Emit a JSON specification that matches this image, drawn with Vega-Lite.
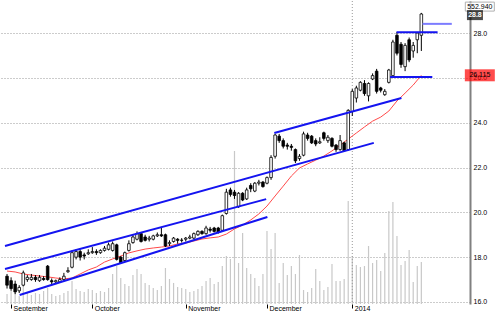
{
  "$schema": "https://vega.github.io/schema/vega-lite/v6.json",
  "width": 470,
  "height": 303,
  "padding": 0,
  "background": "white",
  "config": {"view": {"stroke": null}, "font": "Liberation Sans"},
  "datasets": {
    "candles": [
      {"i":0,"o":17.15,"h":17.25,"l":16.6,"c":16.75,"vol":132},
      {"i":1,"o":16.95,"h":17.1,"l":16.5,"c":16.6,"vol":171},
      {"i":2,"o":16.8,"h":16.95,"l":16.35,"c":16.45,"vol":145},
      {"i":3,"o":16.5,"h":16.75,"l":16.4,"c":16.65,"vol":105},
      {"i":4,"o":16.75,"h":17.4,"l":16.7,"c":17.3,"vol":237},
      {"i":5,"o":17.0,"h":17.2,"l":16.9,"c":17.1,"vol":145},
      {"i":6,"o":17.0,"h":17.25,"l":16.95,"c":17.1,"vol":119},
      {"i":7,"o":17.1,"h":17.2,"l":16.9,"c":17.0,"vol":145},
      {"i":8,"o":16.95,"h":17.2,"l":16.9,"c":17.1,"vol":132},
      {"i":9,"o":17.05,"h":17.15,"l":16.95,"c":17.0,"vol":171},
      {"i":10,"o":17.6,"h":17.65,"l":16.95,"c":17.0,"vol":211},
      {"i":11,"o":16.95,"h":17.05,"l":16.75,"c":16.9,"vol":132},
      {"i":12,"o":16.9,"h":17.0,"l":16.8,"c":16.95,"vol":105},
      {"i":13,"o":16.9,"h":17.1,"l":16.85,"c":17.0,"vol":119},
      {"i":14,"o":17.0,"h":17.3,"l":16.95,"c":17.15,"vol":145},
      {"i":15,"o":17.35,"h":17.55,"l":17.3,"c":17.4,"vol":171},
      {"i":16,"o":17.55,"h":18.3,"l":17.5,"c":18.2,"vol":303},
      {"i":17,"o":18.0,"h":18.35,"l":17.9,"c":18.25,"vol":198},
      {"i":18,"o":18.25,"h":18.35,"l":17.85,"c":18.0,"vol":171},
      {"i":19,"o":18.1,"h":18.2,"l":17.9,"c":18.05,"vol":158},
      {"i":20,"o":18.15,"h":18.35,"l":18.1,"c":18.2,"vol":198},
      {"i":21,"o":18.2,"h":18.45,"l":18.15,"c":18.25,"vol":184},
      {"i":22,"o":18.25,"h":18.35,"l":18.1,"c":18.2,"vol":145},
      {"i":23,"o":18.2,"h":18.35,"l":18.15,"c":18.3,"vol":171},
      {"i":24,"o":18.3,"h":18.5,"l":18.25,"c":18.4,"vol":158},
      {"i":25,"o":18.35,"h":18.65,"l":18.3,"c":18.55,"vol":211},
      {"i":26,"o":18.3,"h":18.7,"l":18.25,"c":18.6,"vol":395},
      {"i":27,"o":18.55,"h":18.6,"l":17.85,"c":17.9,"vol":500},
      {"i":28,"o":18.0,"h":18.05,"l":17.7,"c":17.75,"vol":342},
      {"i":29,"o":17.85,"h":18.25,"l":17.8,"c":18.2,"vol":263},
      {"i":30,"o":18.3,"h":18.75,"l":18.25,"c":18.6,"vol":237},
      {"i":31,"o":18.65,"h":19.0,"l":18.6,"c":18.9,"vol":382},
      {"i":32,"o":18.8,"h":19.15,"l":18.75,"c":19.05,"vol":461},
      {"i":33,"o":19.05,"h":19.1,"l":18.65,"c":18.7,"vol":395},
      {"i":34,"o":18.9,"h":19.0,"l":18.7,"c":18.75,"vol":277},
      {"i":35,"o":18.8,"h":18.95,"l":18.7,"c":18.85,"vol":250},
      {"i":36,"o":18.8,"h":19.0,"l":18.75,"c":18.95,"vol":211},
      {"i":37,"o":18.95,"h":19.1,"l":18.9,"c":19.0,"vol":184},
      {"i":38,"o":19.0,"h":19.35,"l":18.9,"c":18.95,"vol":237},
      {"i":39,"o":19.0,"h":19.05,"l":18.45,"c":18.5,"vol":474},
      {"i":40,"o":18.6,"h":18.75,"l":18.5,"c":18.65,"vol":329},
      {"i":41,"o":18.7,"h":18.9,"l":18.65,"c":18.85,"vol":277},
      {"i":42,"o":18.8,"h":18.85,"l":18.6,"c":18.75,"vol":224},
      {"i":43,"o":18.75,"h":18.85,"l":18.65,"c":18.76,"vol":211},
      {"i":44,"o":18.8,"h":18.9,"l":18.7,"c":18.85,"vol":198},
      {"i":45,"o":18.85,"h":19.0,"l":18.8,"c":18.9,"vol":158},
      {"i":46,"o":18.85,"h":19.1,"l":18.8,"c":19.05,"vol":171},
      {"i":47,"o":19.0,"h":19.2,"l":18.95,"c":19.15,"vol":198},
      {"i":48,"o":19.15,"h":19.2,"l":19.0,"c":19.05,"vol":237},
      {"i":49,"o":19.05,"h":19.4,"l":19.0,"c":19.3,"vol":303},
      {"i":50,"o":19.25,"h":19.35,"l":19.1,"c":19.2,"vol":342},
      {"i":51,"o":19.3,"h":19.35,"l":19.1,"c":19.15,"vol":263},
      {"i":52,"o":19.3,"h":19.35,"l":19.05,"c":19.1,"vol":290},
      {"i":53,"o":19.2,"h":19.9,"l":19.15,"c":19.85,"vol":500},
      {"i":54,"o":19.95,"h":21.05,"l":19.9,"c":20.9,"vol":632},
      {"i":55,"o":21.0,"h":21.1,"l":20.7,"c":20.8,"vol":593},
      {"i":56,"o":20.9,"h":21.0,"l":20.6,"c":20.75,"vol":2015},
      {"i":57,"o":20.25,"h":20.9,"l":20.2,"c":20.85,"vol":540},
      {"i":58,"o":20.85,"h":20.9,"l":20.5,"c":20.55,"vol":935},
      {"i":59,"o":20.6,"h":21.1,"l":20.55,"c":21.0,"vol":474},
      {"i":60,"o":21.2,"h":21.3,"l":20.9,"c":21.05,"vol":395},
      {"i":61,"o":20.95,"h":21.35,"l":20.9,"c":21.3,"vol":342},
      {"i":62,"o":21.3,"h":21.45,"l":21.2,"c":21.35,"vol":237},
      {"i":63,"o":21.35,"h":21.4,"l":21.1,"c":21.15,"vol":395},
      {"i":64,"o":21.3,"h":21.6,"l":21.25,"c":21.55,"vol":961},
      {"i":65,"o":21.55,"h":22.55,"l":21.45,"c":22.45,"vol":724},
      {"i":66,"o":22.5,"h":23.5,"l":22.4,"c":23.45,"vol":935},
      {"i":67,"o":23.4,"h":23.5,"l":23.1,"c":23.2,"vol":277},
      {"i":68,"o":23.2,"h":23.3,"l":22.85,"c":22.95,"vol":540},
      {"i":69,"o":23.0,"h":23.1,"l":22.8,"c":22.95,"vol":382},
      {"i":70,"o":22.95,"h":23.05,"l":22.75,"c":22.9,"vol":500},
      {"i":71,"o":22.8,"h":22.85,"l":22.2,"c":22.3,"vol":395},
      {"i":72,"o":22.4,"h":22.6,"l":22.3,"c":22.5,"vol":645},
      {"i":73,"o":22.55,"h":23.6,"l":22.5,"c":23.5,"vol":184},
      {"i":74,"o":23.45,"h":23.55,"l":23.2,"c":23.3,"vol":158},
      {"i":75,"o":23.4,"h":23.45,"l":23.05,"c":23.1,"vol":211},
      {"i":76,"o":23.2,"h":23.3,"l":22.95,"c":23.05,"vol":461},
      {"i":77,"o":23.1,"h":23.35,"l":23.05,"c":23.15,"vol":303},
      {"i":78,"o":23.55,"h":23.6,"l":23.2,"c":23.3,"vol":184},
      {"i":79,"o":23.2,"h":23.45,"l":23.1,"c":23.35,"vol":224},
      {"i":80,"o":23.3,"h":23.35,"l":22.9,"c":22.95,"vol":527},
      {"i":81,"o":23.0,"h":23.05,"l":22.7,"c":22.8,"vol":303},
      {"i":82,"o":22.8,"h":23.45,"l":22.75,"c":23.2,"vol":303},
      {"i":83,"o":23.1,"h":23.15,"l":22.7,"c":22.75,"vol":329},
      {"i":84,"o":22.8,"h":24.6,"l":22.75,"c":24.55,"vol":1356},
      {"i":85,"o":24.5,"h":25.5,"l":24.3,"c":25.4,"vol":632},
      {"i":86,"o":25.1,"h":25.65,"l":24.9,"c":25.55,"vol":514},
      {"i":87,"o":25.45,"h":25.85,"l":25.4,"c":25.8,"vol":487},
      {"i":88,"o":25.75,"h":25.9,"l":25.2,"c":25.3,"vol":500},
      {"i":89,"o":25.2,"h":25.8,"l":24.95,"c":25.75,"vol":764},
      {"i":90,"o":25.95,"h":26.2,"l":25.9,"c":26.1,"vol":540},
      {"i":91,"o":26.3,"h":26.4,"l":25.3,"c":25.4,"vol":580},
      {"i":92,"o":25.55,"h":25.6,"l":25.35,"c":25.45,"vol":435},
      {"i":93,"o":25.25,"h":25.5,"l":25.2,"c":25.4,"vol":672},
      {"i":94,"o":25.8,"h":26.4,"l":25.75,"c":26.35,"vol":1225},
      {"i":95,"o":26.1,"h":27.7,"l":26.0,"c":27.6,"vol":1343},
      {"i":96,"o":27.9,"h":28.05,"l":27.0,"c":27.1,"vol":896},
      {"i":97,"o":27.5,"h":27.6,"l":26.45,"c":26.6,"vol":514},
      {"i":98,"o":26.5,"h":27.55,"l":26.3,"c":27.45,"vol":566},
      {"i":99,"o":27.7,"h":27.8,"l":26.7,"c":26.8,"vol":711},
      {"i":100,"o":27.2,"h":27.6,"l":26.9,"c":27.45,"vol":290},
      {"i":101,"o":27.7,"h":28.05,"l":27.1,"c":28.0,"vol":500},
      {"i":102,"o":27.9,"h":28.9,"l":27.2,"c":28.85,"vol":553}
    ],
    "ma": [
      {"i":0,"m":17.38},{"i":2,"m":17.34},{"i":4,"m":17.25},{"i":6,"m":17.2},{"i":8,"m":17.16},
      {"i":10,"m":17.12},{"i":12,"m":17.07},{"i":14,"m":17.03},{"i":16,"m":17.07},{"i":18,"m":17.25},
      {"i":20,"m":17.43},{"i":22,"m":17.56},{"i":24,"m":17.78},{"i":26,"m":17.92},{"i":28,"m":18.05},
      {"i":30,"m":18.19},{"i":32,"m":18.28},{"i":34,"m":18.36},{"i":36,"m":18.41},{"i":38,"m":18.45},
      {"i":40,"m":18.5},{"i":42,"m":18.59},{"i":44,"m":18.63},{"i":46,"m":18.72},{"i":48,"m":18.81},
      {"i":50,"m":18.86},{"i":52,"m":18.9},{"i":54,"m":19.03},{"i":56,"m":19.26},{"i":58,"m":19.43},
      {"i":60,"m":19.66},{"i":62,"m":19.93},{"i":64,"m":20.28},{"i":66,"m":20.73},{"i":68,"m":21.17},
      {"i":70,"m":21.62},{"i":72,"m":21.98},{"i":74,"m":22.16},{"i":76,"m":22.33},{"i":78,"m":22.51},
      {"i":80,"m":22.74},{"i":82,"m":23.0},{"i":84,"m":23.27},{"i":86,"m":23.54},{"i":88,"m":23.81},
      {"i":90,"m":24.07},{"i":92,"m":24.25},{"i":94,"m":24.52},{"i":96,"m":24.97},{"i":98,"m":25.32},
      {"i":100,"m":25.68},{"i":102,"m":26.115}
    ],
    "trend": [
      {"id":"A","i":-0.5,"v":18.5},{"id":"A","i":90.3,"v":23.1},
      {"id":"B","i":65.8,"v":23.54},{"id":"B","i":97.1,"v":25.1},
      {"id":"C","i":-0.5,"v":17.47},{"id":"C","i":63.8,"v":20.59},
      {"id":"D","i":3.1,"v":16.31},{"id":"D","i":64.1,"v":19.79},
      {"id":"F","i":95.9,"v":28.04},{"id":"F","i":106.0,"v":28.04},
      {"id":"G","i":94.3,"v":26.04},{"id":"G","i":104.7,"v":26.04},
      {"id":"H","i":102.3,"v":28.41},{"id":"H","i":109.5,"v":28.41}
    ]
  },
  "resolve": {"scale": {"y": "independent"}, "axis": {"y": "independent"}},
  "layer": [
    {
      "data": {"name": "candles"},
      "mark": {"type": "rule", "color": "#c8c8c8", "strokeWidth": 1.2},
      "encoding": {
        "x": {"field": "i", "type": "quantitative", "scale": {"domain": [-0.5, 112.75], "nice": false, "zero": false},
          "axis": {"orient": "bottom", "values": [1, 21, 44, 64, 85], "title": null, "grid": false, "domain": false,
            "labelExpr": "datum.value == 1 ? 'September' : datum.value == 21 ? 'October' : datum.value == 44 ? 'November' : datum.value == 64 ? 'December' : '2014'",
            "labelAlign": "left", "labelOffset": 2, "labelPadding": -4, "labelFontSize": 7, "labelColor": "black",
            "tickSize": 4, "tickColor": "black", "labelFlush": false, "labelOverlap": false, "labelBound": false}},
        "y": {"field": "vol", "type": "quantitative", "scale": {"domain": [0, 3990], "nice": false}, "axis": null},
        "y2": {"datum": 0}
      }
    },
    {
      "layer": [
        {
          "data": {"values": [{"i": 85}]},
          "mark": {"type": "rule", "color": "#999999", "strokeDash": [1, 2], "strokeWidth": 1},
          "encoding": {
            "x": {"field": "i", "type": "quantitative", "scale": {"domain": [-0.5, 112.75], "nice": false, "zero": false}}
          }
        },
        {
          "data": {"name": "ma"},
          "mark": {"type": "line", "color": "#ff4a4a", "strokeWidth": 1},
          "encoding": {
            "x": {"field": "i", "type": "quantitative", "scale": {"domain": [-0.5, 112.75], "nice": false, "zero": false}},
            "y": {"field": "m", "type": "quantitative", "scale": {"domain": [15.91, 29.43], "nice": false, "zero": false},
              "axis": {"orient": "right", "values": [16, 18, 20, 22, 24, 26, 28], "format": ".1f", "title": null,
                "grid": true, "gridDash": [1, 2], "gridColor": "#999999", "gridWidth": 1,
                "ticks": false, "domainColor": "#808080", "domainWidth": 2,
                "labelFontSize": 7, "labelColor": "black", "labelPadding": 3}}
          }
        },
        {
          "data": {"name": "candles"},
          "mark": {"type": "rule", "color": "black", "strokeWidth": 1},
          "encoding": {
            "x": {"field": "i", "type": "quantitative", "scale": {"domain": [-0.5, 112.75], "nice": false, "zero": false}},
            "y": {"field": "l", "type": "quantitative", "scale": {"domain": [15.91, 29.43], "nice": false, "zero": false}},
            "y2": {"field": "h"}
          }
        },
        {
          "data": {"name": "candles"},
          "mark": {"type": "bar", "size": 2.6, "stroke": "black", "strokeWidth": 0.8},
          "encoding": {
            "x": {"field": "i", "type": "quantitative", "scale": {"domain": [-0.5, 112.75], "nice": false, "zero": false}},
            "y": {"field": "o", "type": "quantitative", "scale": {"domain": [15.91, 29.43], "nice": false, "zero": false}},
            "y2": {"field": "c"},
            "fill": {"condition": {"test": "datum.c > datum.o", "value": "white"}, "value": "black"}
          }
        },
        {
          "data": {"name": "trend"},
          "mark": {"type": "line", "strokeWidth": 2},
          "encoding": {
            "x": {"field": "i", "type": "quantitative", "scale": {"domain": [-0.5, 112.75], "nice": false, "zero": false}},
            "y": {"field": "v", "type": "quantitative", "scale": {"domain": [15.91, 29.43], "nice": false, "zero": false}},
            "detail": {"field": "id"},
            "color": {"field": "id", "type": "nominal", "legend": null,
              "scale": {"domain": ["A", "B", "C", "D", "F", "G", "H"], "range": ["#1414f0", "#1414f0", "#1414f0", "#1414f0", "#1414f0", "#1414f0", "#7c7cff"]}}
          }
        },
        {
          "data": {"values": [{"label": "552.940", "v": 29.18}]},
          "layer": [
            {"mark": {"type": "tick", "orient": "horizontal", "size": 29, "thickness": 9, "color": "white", "stroke": "#909090", "strokeWidth": 1}},
            {"mark": {"type": "text", "fontSize": 7, "color": "black"}, "encoding": {"text": {"field": "label"}}}
          ],
          "encoding": {
            "x": {"datum": 116.4, "type": "quantitative", "scale": {"domain": [-0.5, 112.75], "nice": false, "zero": false}},
            "y": {"field": "v", "type": "quantitative", "scale": {"domain": [15.91, 29.43], "nice": false, "zero": false}}
          }
        },
        {
          "data": {"values": [{"label": "28.8", "v": 28.8}]},
          "layer": [
            {"mark": {"type": "tick", "orient": "horizontal", "size": 16, "thickness": 10, "color": "black"}},
            {"mark": {"type": "text", "fontSize": 7, "color": "white", "fontWeight": "bold"}, "encoding": {"text": {"field": "label"}}}
          ],
          "encoding": {
            "x": {"datum": 115.2, "type": "quantitative", "scale": {"domain": [-0.5, 112.75], "nice": false, "zero": false}},
            "y": {"field": "v", "type": "quantitative", "scale": {"domain": [15.91, 29.43], "nice": false, "zero": false}}
          }
        },
        {
          "data": {"values": [{"label": "26.115", "v": 26.115}]},
          "layer": [
            {"mark": {"type": "tick", "orient": "horizontal", "size": 30, "thickness": 12, "color": "#ff0000"}},
            {"mark": {"type": "text", "fontSize": 7, "color": "black"}, "encoding": {"text": {"field": "label"}}}
          ],
          "encoding": {
            "x": {"datum": 116.4, "type": "quantitative", "scale": {"domain": [-0.5, 112.75], "nice": false, "zero": false}},
            "y": {"field": "v", "type": "quantitative", "scale": {"domain": [15.91, 29.43], "nice": false, "zero": false}}
          }
        }
      ]
    }
  ]
}
